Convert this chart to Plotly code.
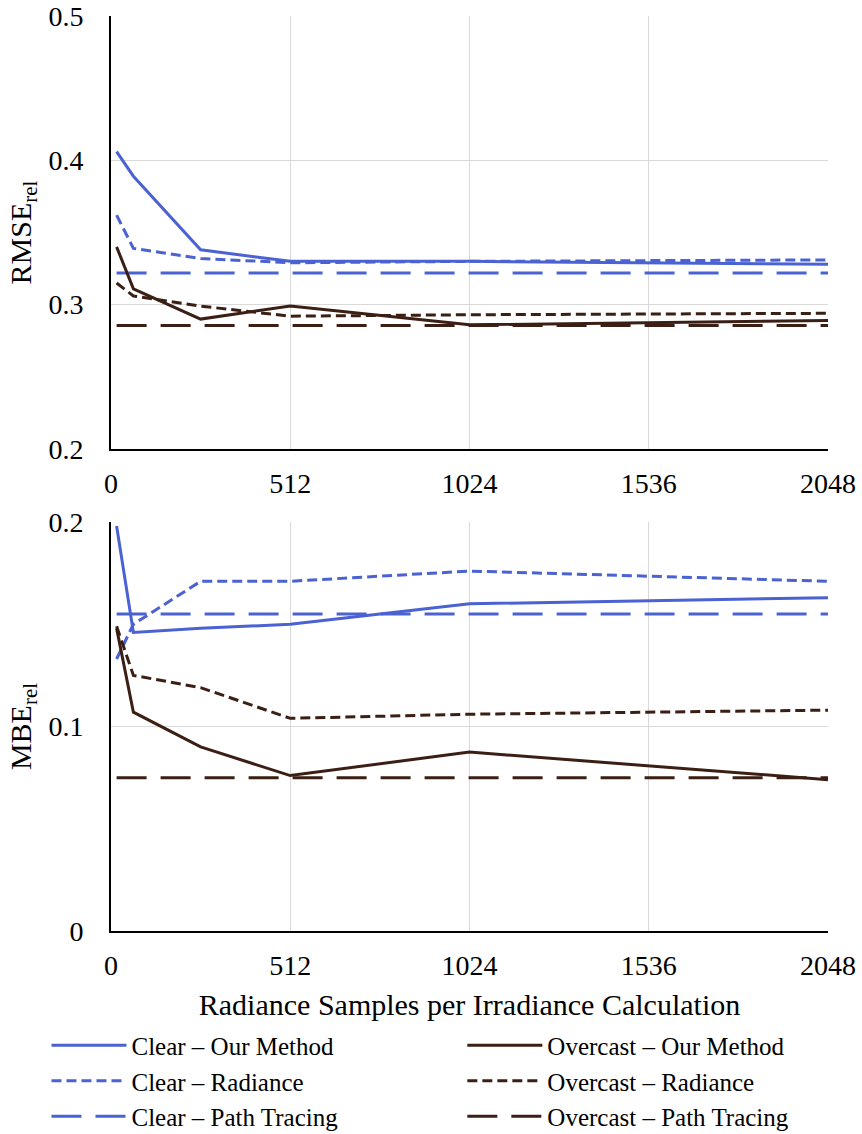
import plotly.graph_objects as go
from plotly.subplots import make_subplots

samples = [16, 64, 256, 512, 1024, 2048]

clear_our_rmse = [0.406, 0.389, 0.338, 0.330, 0.330, 0.328]
clear_rad_rmse = [0.362, 0.339, 0.332, 0.329, 0.330, 0.331]
clear_pt_rmse = [0.322, 0.322, 0.322, 0.322, 0.322, 0.322]
over_our_rmse = [0.340, 0.311, 0.290, 0.299, 0.286, 0.289]
over_rad_rmse = [0.315, 0.306, 0.299, 0.292, 0.293, 0.294]
over_pt_rmse = [0.2855, 0.2855, 0.2855, 0.2855, 0.2855, 0.2855]

clear_our_mbe = [0.198, 0.146, 0.148, 0.150, 0.160, 0.163]
clear_rad_mbe = [0.133, 0.150, 0.171, 0.171, 0.176, 0.171]
clear_pt_mbe = [0.155, 0.155, 0.155, 0.155, 0.155, 0.155]
over_our_mbe = [0.148, 0.107, 0.090, 0.076, 0.0875, 0.074]
over_rad_mbe = [0.149, 0.125, 0.119, 0.104, 0.106, 0.108]
over_pt_mbe = [0.075, 0.075, 0.075, 0.075, 0.075, 0.075]

x_ticks = [0, 512, 1024, 1536, 2048]
rmse_ticks = [0.2, 0.3, 0.4, 0.5]
mbe_ticks = [0, 0.1, 0.2]

names = ["Clear – Our Method", "Clear – Radiance", "Clear – Path Tracing",
         "Overcast – Our Method", "Overcast – Radiance", "Overcast – Path Tracing"]

BLUE = "#4a62d2"
BROWN = "#3b1f14"
FONT = "Liberation Serif"
SHORT = "10px,5px"
LONG = "30px,14px"

fig = make_subplots(rows=2, cols=1, vertical_spacing=0.08)

styles = [(BLUE, "solid"), (BLUE, SHORT), (BLUE, LONG),
          (BROWN, "solid"), (BROWN, SHORT), (BROWN, LONG)]
top = [clear_our_rmse, clear_rad_rmse, clear_pt_rmse, over_our_rmse, over_rad_rmse, over_pt_rmse]
bot = [clear_our_mbe, clear_rad_mbe, clear_pt_mbe, over_our_mbe, over_rad_mbe, over_pt_mbe]

for i, (col, dash) in enumerate(styles):
    lg = "legend" if i < 3 else "legend2"
    fig.add_trace(go.Scatter(x=samples, y=top[i], mode="lines", name=names[i],
                             line=dict(color=col, width=3, dash=dash),
                             legend=lg, showlegend=True), row=1, col=1)
for i, (col, dash) in enumerate(styles):
    fig.add_trace(go.Scatter(x=samples, y=bot[i], mode="lines", name=names[i],
                             line=dict(color=col, width=3, dash=dash),
                             showlegend=False), row=2, col=1)

axis_common = dict(showline=True, linecolor="black", linewidth=2, mirror=False,
                   showgrid=True, gridcolor="#d9d9d9", gridwidth=1, zeroline=False,
                   tickfont=dict(family=FONT, size=28, color="black"))

for r in (1, 2):
    fig.update_xaxes(range=[0, 2048], tickvals=x_ticks, ticktext=[str(v) for v in x_ticks],
                     ticks="outside", ticklen=8, tickcolor="rgba(0,0,0,0)",
                     row=r, col=1, **axis_common)

fig.update_xaxes(title=dict(text="Radiance Samples per Irradiance Calculation",
                            font=dict(family=FONT, size=30, color="black"), standoff=14),
                 row=2, col=1)

fig.update_yaxes(range=[0.2, 0.5], tickvals=rmse_ticks, ticktext=["0.2", "0.3", "0.4", "0.5"],
                 ticks="outside", ticklen=20, tickcolor="rgba(0,0,0,0)",
                 title=dict(text="RMSE<sub>rel</sub>", font=dict(family=FONT, size=30, color="black"),
                            standoff=8),
                 row=1, col=1, **axis_common)
fig.update_yaxes(range=[0, 0.2], tickvals=mbe_ticks, ticktext=["0", "0.1", "0.2"],
                 ticks="outside", ticklen=20, tickcolor="rgba(0,0,0,0)",
                 title=dict(text="MBE<sub>rel</sub>", font=dict(family=FONT, size=30, color="black"),
                            standoff=8),
                 row=2, col=1, **axis_common)

fig.update_layout(
    width=862, height=1134,
    margin=dict(l=111, r=34, t=16, b=203, autoexpand=False),
    paper_bgcolor="white", plot_bgcolor="white",
    xaxis=dict(domain=[0, 1], anchor="y"),
    yaxis=dict(domain=[0.5268, 1.0]),
    xaxis2=dict(domain=[0, 1], anchor="y2"),
    yaxis2=dict(domain=[0.0, 0.447]),
    legend=dict(x=-0.09, y=-0.100, xanchor="left", yanchor="top",
                font=dict(family=FONT, size=25, color="black"),
                itemwidth=75, tracegroupgap=0, bgcolor="rgba(0,0,0,0)"),
    legend2=dict(x=0.49, y=-0.100, xanchor="left", yanchor="top",
                 font=dict(family=FONT, size=25, color="black"),
                 itemwidth=75, tracegroupgap=0, bgcolor="rgba(0,0,0,0)"),
    font=dict(family=FONT, color="black"),
)

fig.write_html("out.html")
